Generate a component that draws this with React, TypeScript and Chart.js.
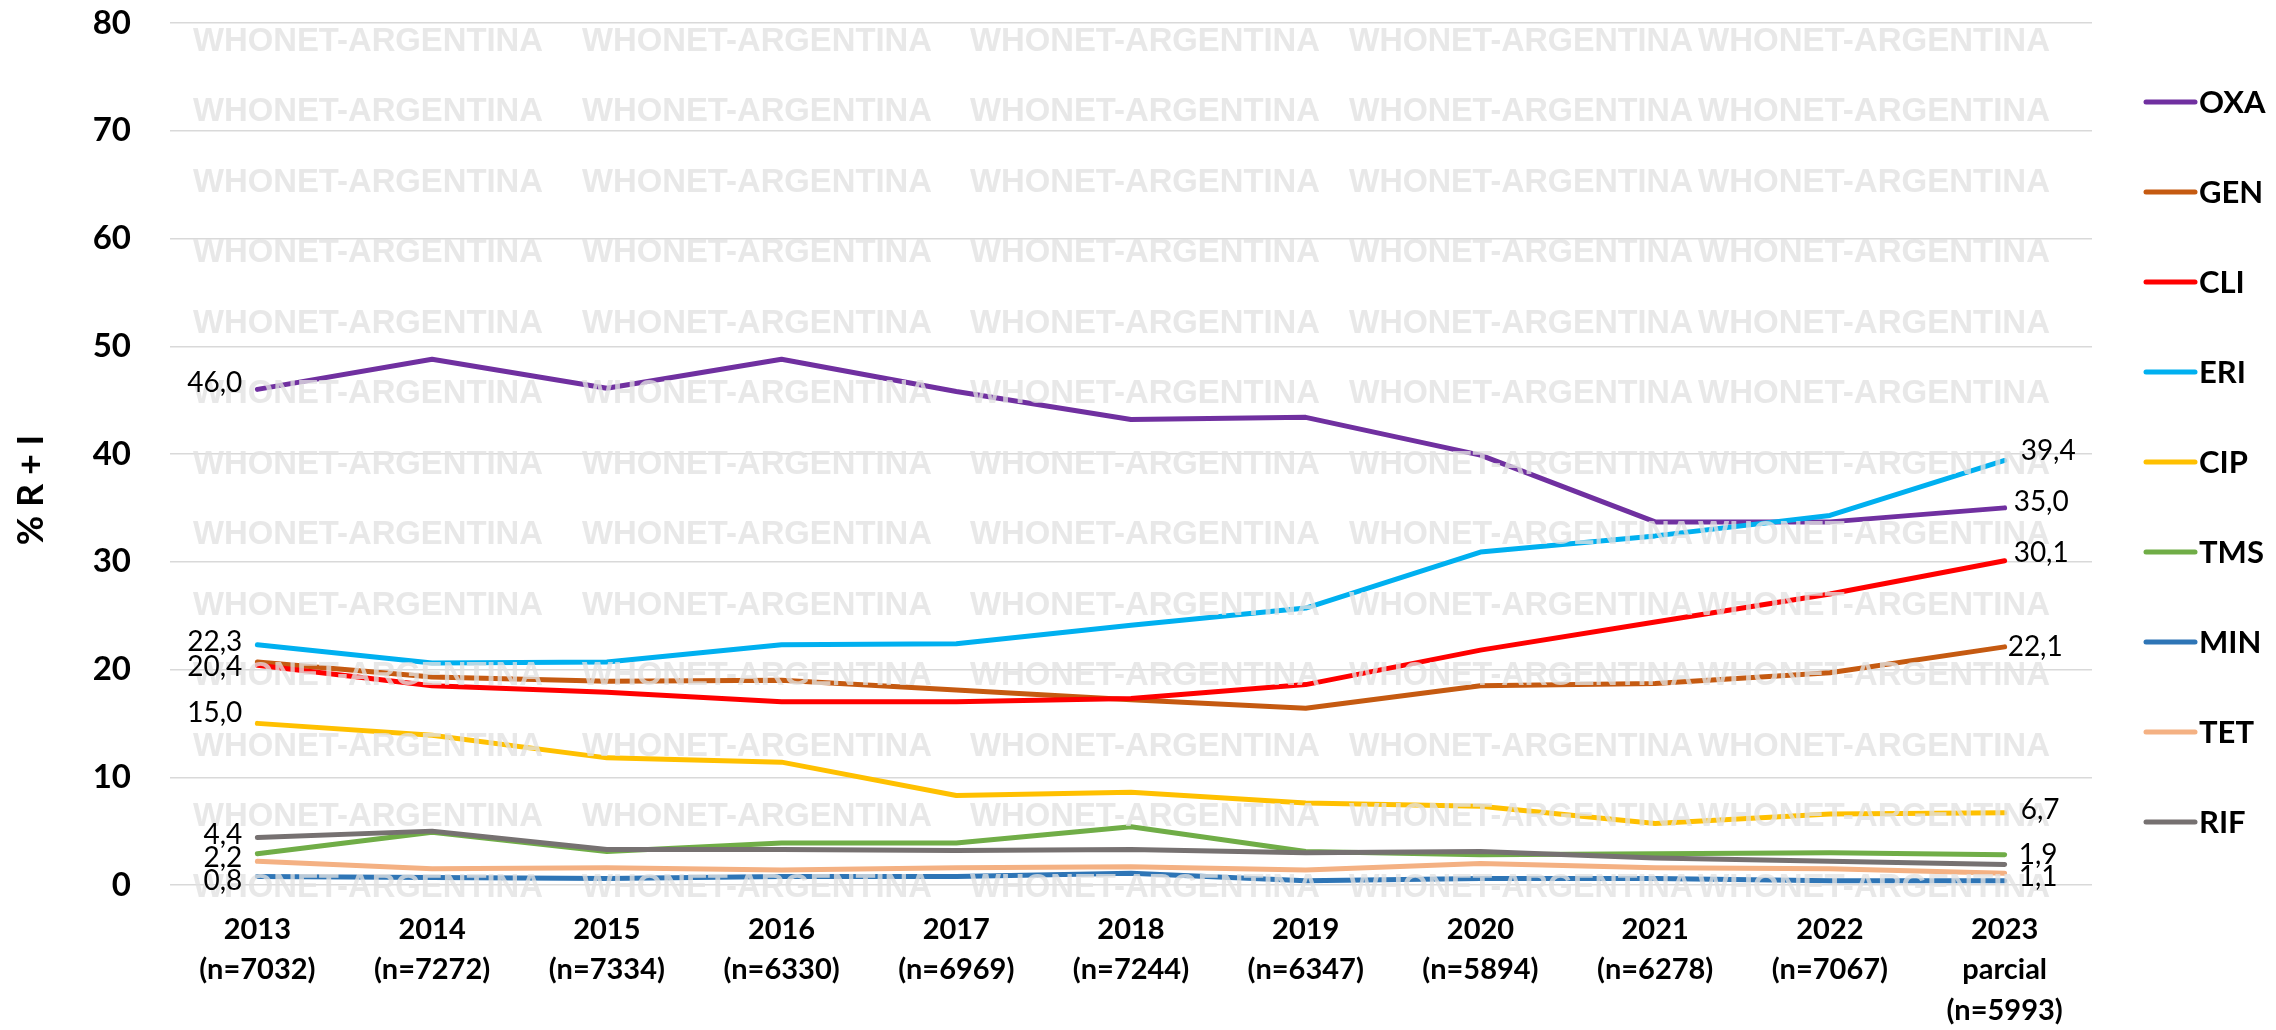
import React, { useEffect, useRef } from "react";
import { Chart, registerables } from "chart.js";

Chart.register(...registerables);

// ---------- data ----------
const years = ["2013", "2014", "2015", "2016", "2017", "2018", "2019", "2020", "2021", "2022", "2023"];
const sampleSizes = ["7032", "7272", "7334", "6330", "6969", "7244", "6347", "5894", "6278", "7067", "5993"];
const yearNotes = ["", "", "", "", "", "", "", "", "", "", "parcial"];

const seriesNames = ["OXA", "GEN", "CLI", "ERI", "CIP", "TMS", "MIN", "TET", "RIF"];
const oxa = [46.0, 48.8, 46.1, 48.8, 45.8, 43.2, 43.4, 39.9, 33.7, 33.7, 35.0];
const gen = [20.7, 19.3, 18.9, 19.0, 18.1, 17.2, 16.4, 18.5, 18.7, 19.7, 22.1];
const cli = [20.4, 18.5, 17.9, 17.0, 17.0, 17.3, 18.6, 21.8, 24.4, 27.0, 30.1];
const eri = [22.3, 20.6, 20.7, 22.3, 22.4, 24.1, 25.7, 30.9, 32.4, 34.3, 39.4];
const cip = [15.0, 13.9, 11.8, 11.4, 8.3, 8.6, 7.6, 7.3, 5.7, 6.6, 6.7];
const tms = [2.9, 4.9, 3.1, 3.9, 3.9, 5.4, 3.1, 2.8, 2.9, 3.0, 2.8];
const minocycline = [0.8, 0.7, 0.6, 0.8, 0.8, 1.1, 0.4, 0.6, 0.6, 0.4, 0.4];
const tet = [2.2, 1.5, 1.6, 1.4, 1.6, 1.7, 1.4, 2.0, 1.6, 1.5, 1.1];
const rif = [4.4, 5.0, 3.3, 3.3, 3.2, 3.3, 3.0, 3.1, 2.5, 2.2, 1.9];
const seriesValues = [oxa, gen, cli, eri, cip, tms, minocycline, tet, rif];

const yMin = 0;
const yMax = 80;
const yStep = 10;
const yTitle = "% R + I";
const watermarkText = "WHONET-ARGENTINA";

// which points carry a value label (series index, point index)
const labelledSeries = [0, 3, 2, 4, 8, 7, 6, 3, 0, 2, 1, 4, 8, 7];
const labelledIndex = [0, 0, 0, 0, 0, 0, 0, 10, 10, 10, 10, 10, 10, 10];

// ---------- styles ----------
const seriesColors = ["#7030A0", "#C55A11", "#FF0000", "#00B0F0", "#FFC000", "#70AD47", "#2E75B6", "#F4B183", "#767171"];
const labelDx = [-15, -15, -15, -15, -15, -15, -15, 16, 9, 9, 3, 16, 14, 14];
const labelDy = [-6, -3, 2, -10, -3, -3, 5, -9, -6, -8, 0, -3, -10, 4];
const FONT = "Lato, 'Open Sans', sans-serif";

const fmt = (v: number) => v.toFixed(1).replace(".", ",");

const watermarkPlugin = {
  id: "watermark",
  afterDatasetsDraw(chart: any) {
    const ctx = chart.ctx;
    const colStarts = [193, 582, 970, 1349, 1698];
    const colWidths = [350, 350, 350, 344, 360];
    ctx.save();
    ctx.font = `bold 33px 'Liberation Sans', Arial, sans-serif`;
    ctx.fillStyle = "rgba(226,226,226,0.78)";
    ctx.textAlign = "left";
    ctx.textBaseline = "alphabetic";
    for (let r = 0; r < 13; r++) {
      const cy = 39 + 70.5 * r;
      for (let c = 0; c < colStarts.length; c++) {
        ctx.fillText(watermarkText, colStarts[c], cy + 11.5, colWidths[c]);
      }
    }
    ctx.restore();
  },
};

const dataLabelPlugin = {
  id: "dataLabels",
  afterDatasetsDraw(chart: any) {
    const ctx = chart.ctx;
    ctx.save();
    ctx.font = `28px ${FONT}`;
    ctx.fillStyle = "#000";
    ctx.textBaseline = "middle";
    for (let k = 0; k < labelledSeries.length; k++) {
      const s = labelledSeries[k];
      const i = labelledIndex[k];
      const el = chart.getDatasetMeta(s).data[i];
      if (!el) continue;
      const dx = labelDx[k];
      ctx.textAlign = dx < 0 ? "right" : "left";
      ctx.fillText(fmt(seriesValues[s][i]), el.x + dx, el.y + labelDy[k]);
    }
    ctx.restore();
  },
};

const legendPlugin = {
  id: "customLegend",
  afterDraw(chart: any) {
    const ctx = chart.ctx;
    ctx.save();
    chart.data.datasets.forEach((ds: any, i: number) => {
      const y = 102 + 90 * i;
      ctx.strokeStyle = ds.borderColor;
      ctx.lineWidth = 5;
      ctx.lineCap = "round";
      ctx.beginPath();
      ctx.moveTo(2146, y);
      ctx.lineTo(2195, y);
      ctx.stroke();
      ctx.font = `bold 31px ${FONT}`;
      ctx.fillStyle = "#000";
      ctx.textAlign = "left";
      ctx.textBaseline = "middle";
      ctx.fillText(ds.label, 2199, y + 1);
    });
    ctx.restore();
  },
};

const yTitlePlugin = {
  id: "yTitle",
  afterDraw(chart: any) {
    const ctx = chart.ctx;
    ctx.save();
    ctx.translate(31, 490);
    ctx.rotate(-Math.PI / 2);
    ctx.font = `bold 36px ${FONT}`;
    ctx.fillStyle = "#000";
    ctx.textAlign = "center";
    ctx.textBaseline = "middle";
    ctx.fillText(yTitle, 0, 0);
    ctx.restore();
  },
};

export default function App() {
  const canvasRef = useRef<HTMLCanvasElement | null>(null);

  useEffect(() => {
    if (!canvasRef.current) return;
    const labels = years.map((y, i) => {
      const lines = [y];
      if (yearNotes[i]) lines.push(yearNotes[i]);
      lines.push(`(n=${sampleSizes[i]})`);
      return lines;
    });
    const n = seriesNames.length;
    const chart = new Chart(canvasRef.current, {
      type: "line",
      data: {
        labels,
        datasets: seriesNames.map((name, i) => ({
          label: name,
          data: seriesValues[i],
          borderColor: seriesColors[i],
          backgroundColor: seriesColors[i],
          borderWidth: 5,
          pointRadius: 0,
          pointHoverRadius: 0,
          tension: 0,
          fill: false,
          borderCapStyle: "round",
          borderJoinStyle: "round",
          order: n - 1 - i,
        })),
      },
      options: {
        responsive: false,
        maintainAspectRatio: false,
        animation: false,
        events: [],
        layout: { padding: { top: 23, right: 184, bottom: 0, left: 0 } },
        plugins: {
          legend: { display: false },
          tooltip: { enabled: false },
          title: { display: false },
        },
        scales: {
          x: {
            type: "category",
            offset: true,
            grid: { display: false, drawTicks: false },
            border: { display: false },
            ticks: {
              color: "#000",
              autoSkip: false,
              maxRotation: 0,
              padding: 24,
              font: { family: FONT, size: 29, weight: "bold", lineHeight: 1.4 },
            },
            afterFit: (s: any) => {
              s.height = 145;
            },
          },
          y: {
            min: yMin,
            max: yMax,
            grid: { color: "#d9d9d9", lineWidth: 1.5, drawTicks: false },
            border: { display: false },
            ticks: {
              stepSize: yStep,
              color: "#000",
              padding: 39,
              font: { family: FONT, size: 33, weight: "bold", lineHeight: 1 },
            },
            afterFit: (s: any) => {
              s.width = 170;
              s.paddingTop = 0;
              s.paddingBottom = 0;
            },
          },
        },
      } as any,
      plugins: [watermarkPlugin, dataLabelPlugin, legendPlugin, yTitlePlugin],
    });
    return () => chart.destroy();
  }, []);

  return (
    <div style={{ position: "fixed", left: 0, top: 0, width: 2276, height: 1030, background: "#fff" }}>
      <canvas ref={canvasRef} width={2276} height={1030} style={{ width: 2276, height: 1030, display: "block" }} />
    </div>
  );
}
